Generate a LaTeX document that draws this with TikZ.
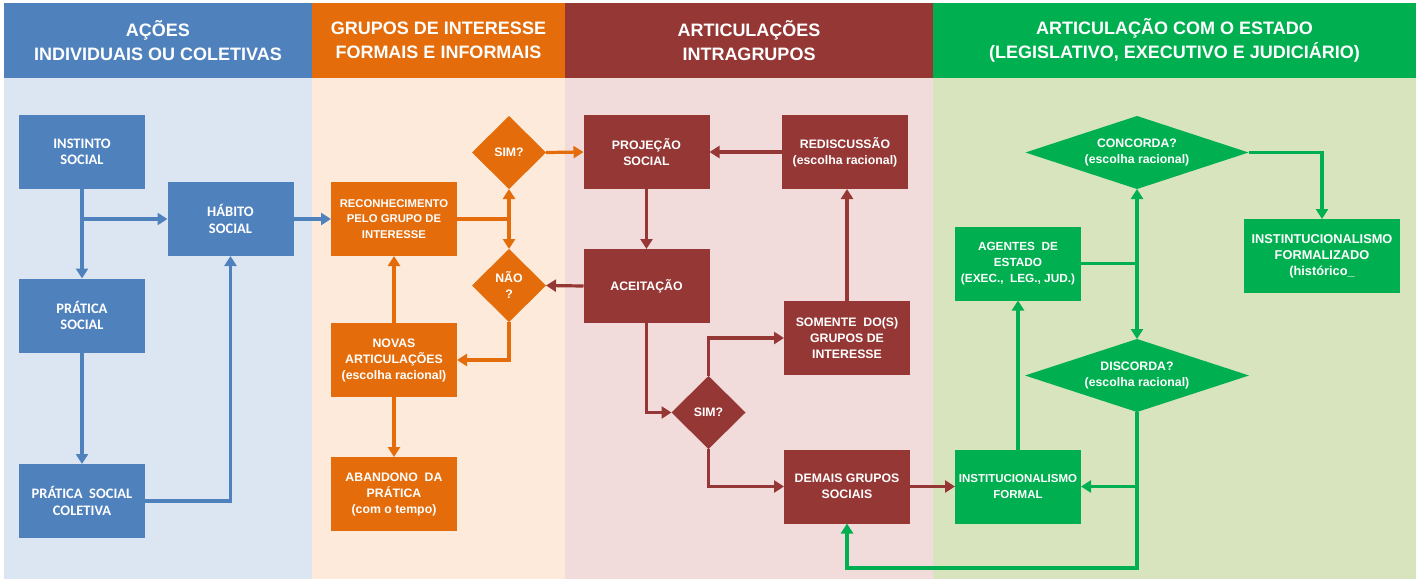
\documentclass[tikz,border=0pt]{standalone}
\usepackage{fontspec}
\setmainfont{Liberation Sans}
\newfontfamily\calib{Carlito}
\usetikzlibrary{arrows.meta,shapes.geometric}
\definecolor{cblue}{HTML}{4F81BD}
\definecolor{corange}{HTML}{E46C0A}
\definecolor{cred}{HTML}{953735}
\definecolor{cgreen}{HTML}{00B050}
\definecolor{lblue}{HTML}{DCE6F2}
\definecolor{lorange}{HTML}{FDEADA}
\definecolor{lred}{HTML}{F2DCDB}
\definecolor{lgreen}{HTML}{D7E4BD}
\tikzset{
  hdr/.style={rectangle, inner sep=0pt, outer sep=0pt, minimum height=75pt, text=white, align=center,
    font=\bfseries\fontsize{18}{24}\selectfont},
  box/.style={rectangle, inner sep=0pt, outer sep=0pt, minimum width=126pt, minimum height=74pt,
    text=white, align=center, font=\bfseries\fontsize{12.3}{16}\selectfont},
  bbox/.style={box, fill=cblue, font=\calib\bfseries\fontsize{14.5}{16.5}\selectfont},
  obox/.style={box, fill=corange},
  rbox/.style={box, fill=cred},
  gbox/.style={box, fill=cgreen},
  dia/.style={diamond, inner sep=0pt, outer sep=0pt, minimum width=74pt, minimum height=73pt},
  dtext/.style={text=white, align=center, font=\bfseries\fontsize{12.3}{16}\selectfont},
  conn/.style={line width=3.2pt, -{Triangle[length=10pt,width=12pt]}},
  conn2/.style={line width=3.2pt, {Triangle[length=10pt,width=12pt]}-{Triangle[length=10pt,width=12pt]}},
  plain/.style={line width=3.2pt}
}
\begin{document}
\begin{tikzpicture}[x=1pt,y=-1pt]
\useasboundingbox (0,0) rectangle (1423,581);
\fill[white] (0,0) rectangle (1423,581);
% body backgrounds
\fill[lblue] (4,78) rectangle (312,579);
\fill[lorange] (312,78) rectangle (565,579);
\fill[lred] (565,78) rectangle (933,579);
\fill[lgreen] (933,78) rectangle (1416,579);
% headers
\node[hdr, fill=cblue, minimum width=308pt] (h1) at (158,40.5) {AÇÕES\\INDIVIDUAIS OU COLETIVAS};
\node[hdr, fill=corange, minimum width=253pt] (h2) at (438.5,40.5) {GRUPOS DE INTERESSE\\FORMAIS E INFORMAIS};
\node[hdr, fill=cred, minimum width=368pt] (h3) at (749,40.5) {ARTICULAÇÕES\\INTRAGRUPOS};
\node[hdr, fill=cgreen, minimum width=483pt] (h4) at (1174.5,40.5) {ARTICULAÇÃO COM O ESTADO\\(LEGISLATIVO, EXECUTIVO E JUDICIÁRIO)};
% column 1
\node[bbox] (inst) at (82,152) {INSTINTO\\SOCIAL};
\node[bbox] (hab) at (230.5,219) {HÁBITO\\SOCIAL};
\node[bbox] (prat) at (82,315.5) {PRÁTICA\\SOCIAL};
\node[bbox] (col) at (82,501) {PRÁTICA \ SOCIAL\\COLETIVA};
% column 2
\node[obox, font=\bfseries\fontsize{11.3}{15.5}\selectfont] (rec) at (394,219) {RECONHECIMENTO\\PELO GRUPO DE\\INTERESSE};
\node[dia, fill=corange, label={[dtext]center:{SIM?}}] (sim1) at (509,152.5) {};
\node[dia, fill=corange, label={[dtext]center:{NÃO\\?}}] (nao) at (509,285.5) {};
\node[obox] (nov) at (394,360) {NOVAS\\ARTICULAÇÕES\\(escolha racional)};
\node[obox] (aba) at (394,494) {ABANDONO \ DA\\PRÁTICA\\(com o tempo)};
% column 3
\node[rbox] (proj) at (646.5,152) {PROJEÇÃO\\SOCIAL};
\node[rbox] (redis) at (845,152) {REDISCUSSÃO\\(escolha racional)};
\node[rbox] (ace) at (646.5,286) {ACEITAÇÃO};
\node[rbox] (som) at (847,338) {SOMENTE \ DO(S)\\GRUPOS DE\\INTERESSE};
\node[dia, fill=cred, label={[dtext]center:{SIM?}}] (sim2) at (708.5,412.5) {};
\node[rbox] (dem) at (847,486.5) {DEMAIS GRUPOS\\SOCIAIS};
% column 4
\node[dia, fill=cgreen, minimum width=223pt, label={[dtext]center:{CONCORDA?\\(escolha racional)}}] (conc) at (1137,152.5) {};
\node[gbox, font=\bfseries\fontsize{11.8}{16}\selectfont] (ag) at (1018,263.5) {AGENTES \ DE\\ESTADO\\(EXEC., \ LEG., JUD.)};
\node[gbox, minimum width=156pt, font=\bfseries\fontsize{12.8}{16}\selectfont] (form) at (1322,256) {INSTINTUCIONALISMO\\FORMALIZADO\\(histórico\_};
\node[dia, fill=cgreen, minimum width=224pt, label={[dtext]center:{DISCORDA?\\(escolha racional)}}] (disc) at (1137,375.5) {};
\node[gbox, font=\bfseries\fontsize{11.5}{16}\selectfont] (instf) at (1018,486.5) {INSTITUCIONALISMO\\FORMAL};
\coordinate (gb) at (847,568);
% blue connectors
\draw[conn, cblue] (inst.south) -- (prat.north);
\draw[conn, cblue] (inst.south |- hab.west) -- (hab.west);
\draw[conn, cblue] (prat.south) -- (col.north);
\draw[conn, cblue] (col.east) -| (hab.south);
\draw[conn, cblue] (hab.east) -- (rec.west);
% orange connectors
\draw[conn, corange] (sim1.east) -- (proj.west);
\draw[plain, corange] (rec.east) -- (rec.east -| sim1.south);
\draw[conn2, corange] (sim1.south) -- (nao.north);
\draw[conn, corange] (nao.south) |- (nov.east);
\draw[conn, corange] (nov.north) -- (rec.south);
\draw[conn, corange] (nov.south) -- (aba.north);
% red connectors
\draw[conn, cred] (ace.west) -- (nao.east);
\draw[conn, cred] (redis.west) -- (proj.east);
\draw[conn, cred] (proj.south) -- (ace.north);
\draw[conn, cred] (ace.south) |- (sim2.west);
\draw[conn, cred] (sim2.north) |- (som.west);
\draw[conn, cred] (sim2.south) |- (dem.west);
\draw[conn, cred] (som.north) -- (som.north |- redis.south);
\draw[conn, cred] (dem.east) -- (instf.west);
% green connectors
\draw[conn, cgreen] (conc.east) -| (form.north);
\draw[conn2, cgreen] (conc.south) -- (disc.north);
\draw[plain, cgreen] (ag.east) -- (ag.east -| conc.south);
\draw[conn, cgreen] (instf.north) -- (ag.south);
\draw[conn, cgreen] (disc.south) |- (gb) -- (dem.south);
\draw[conn, cgreen] (disc.south |- instf.east) -- (instf.east);
\end{tikzpicture}
\end{document}
